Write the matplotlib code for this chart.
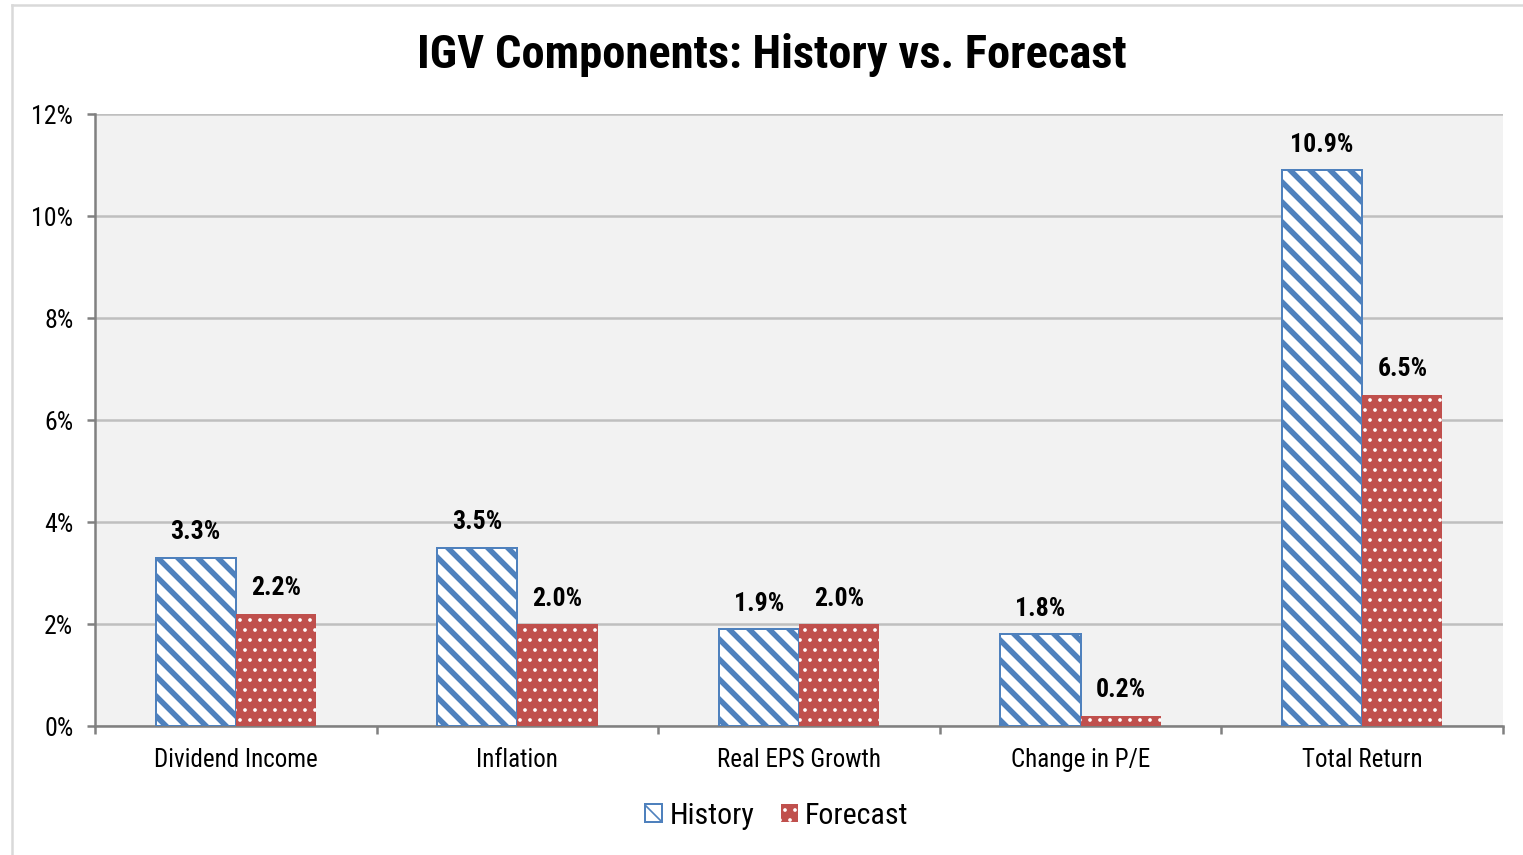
import matplotlib
matplotlib.use('Agg')
import matplotlib.pyplot as plt
from matplotlib import font_manager
import numpy as np
from matplotlib.ticker import FuncFormatter, FixedLocator

# Data
categories = ['Dividend Income', 'Inflation', 'Real EPS Growth', 'Change in P/E', 'Total Return']
history = [3.3, 3.5, 1.9, 1.8, 10.9]
forecast = [2.2, 2.0, 2.0, 0.2, 6.5]
series_names = ['History', 'Forecast']
y_ticks = [0, 2, 4, 6, 8, 10, 12]

blue = '#4F81BD'
red = '#C0504D'

# look for a narrow sans font, otherwise fall back to Liberation Sans
names = {f.name for f in font_manager.fontManager.ttflist}
cond_files = [f for f in font_manager.fontManager.ttflist if 'condensed' in f.fname.lower() or 'narrow' in f.fname.lower()]
family = None
stretch = 'normal'
for cand in ['Liberation Sans Narrow', 'Arial Narrow', 'Roboto Condensed', 'Open Sans Condensed']:
    if cand in names:
        family = cand
        break
if family is None and any(f.name == 'DejaVu Sans' for f in cond_files):
    family = 'DejaVu Sans'
    stretch = 'condensed'
if family is None:
    family = 'Liberation Sans'
plt.rcParams['font.family'] = [family, 'DejaVu Sans']
plt.rcParams['font.stretch'] = stretch

DPI = 120
fig = plt.figure(figsize=(1523 / DPI, 855 / DPI), dpi=DPI, facecolor='white')
ax = fig.add_axes([95 / 1523, 1 - 726 / 855, 1408 / 1523, 612 / 855])
ax.set_facecolor('#F2F2F2')

# outer frame (left and top edges only visible)
fig.add_artist(plt.Line2D([12 / 1523, 12 / 1523], [0, 1 - 5 / 855], transform=fig.transFigure,
                          color='#D9D9D9', lw=1.5))
fig.add_artist(plt.Line2D([12 / 1523, 1], [1 - 5 / 855, 1 - 5 / 855], transform=fig.transFigure,
                          color='#D9D9D9', lw=1.5))

x = np.arange(len(categories))
w = 0.285

with plt.rc_context({'hatch.linewidth': 3.3}):
    b1 = ax.bar(x - w / 2, history, w, facecolor='white', edgecolor=blue, linewidth=1.2,
                hatch='\\\\', label=series_names[0], zorder=3)
with plt.rc_context({'hatch.linewidth': 1.0}):
    b2 = ax.bar(x + w / 2, forecast, w, facecolor=red, edgecolor='white', linewidth=0,
                hatch='..', label=series_names[1], zorder=3)

for bars, vals in ((b1, history), (b2, forecast)):
    for rect, v in zip(bars, vals):
        ax.annotate(f'{v:.1f}%', (rect.get_x() + rect.get_width() / 2, v),
                    xytext=(0, 8), textcoords='offset points', ha='center', va='bottom',
                    fontsize=15.5, fontweight='bold', color='black')

ax.set_ylim(0, 12)
ax.set_xlim(-0.5, len(categories) - 0.5)
ax.set_yticks(y_ticks)
ax.yaxis.set_major_formatter(FuncFormatter(lambda v, p: f'{v:.0f}%'))
ax.grid(axis='y', color='#BFBFBF', linewidth=1.5, zorder=0)
ax.set_axisbelow(True)

ax.xaxis.set_major_locator(FixedLocator(np.arange(-0.5, len(categories), 1.0)))
ax.xaxis.set_major_formatter(FuncFormatter(lambda v, p: ''))
ax.xaxis.set_minor_locator(FixedLocator(x))
ax.set_xticklabels(categories, minor=True)
ax.tick_params(axis='x', which='major', length=5, width=1.5, color='#808080')
ax.tick_params(axis='x', which='minor', length=0, pad=13, labelsize=15)
ax.tick_params(axis='y', length=5, width=1.5, color='#808080', labelsize=15.5, pad=8)

for s in ('top', 'right'):
    ax.spines[s].set_visible(False)
for s in ('left', 'bottom'):
    ax.spines[s].set_color('#808080')
    ax.spines[s].set_linewidth(1.5)

fig.text(772 / 1523, 1 - 55 / 855, 'IGV Components: History vs. Forecast', ha='center', va='center',
         fontsize=28, fontweight='bold')

leg = fig.legend(handles=[b1, b2], loc='center', bbox_to_anchor=(777 / 1523, 1 - 816 / 855),
                 ncol=2, frameon=False, fontsize=18, handlelength=0.55, handleheight=0.55,
                 handletextpad=0.25, columnspacing=0.9)

fig.savefig('out.png', dpi=DPI, facecolor='white')
